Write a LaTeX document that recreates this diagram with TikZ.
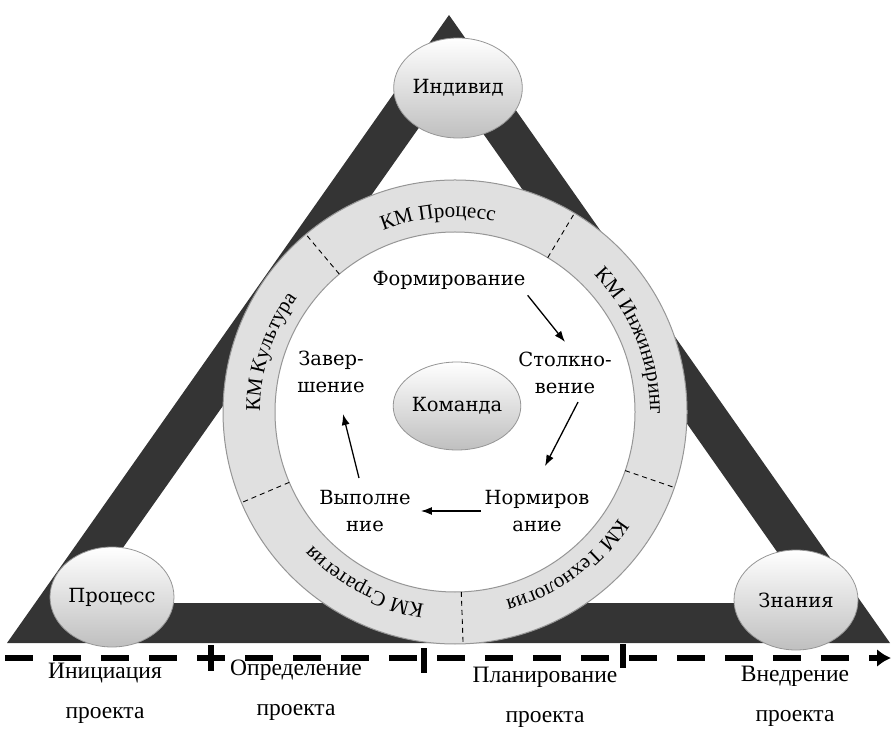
\documentclass[tikz,border=0pt]{standalone}
\usepackage{fontspec}
\setmainfont{Liberation Serif}
\newfontfamily\stagefont{DejaVu Serif}
\usetikzlibrary{shapes.geometric,arrows.meta,positioning,decorations.text}

\definecolor{bandgray}{RGB}{52,52,52}
\definecolor{ringgray}{RGB}{224,224,224}
\definecolor{rimgray}{RGB}{150,150,150}

\newcommand\ringlabel[2]{%
  \path[decorate, decoration={text along path, text align=center,
    text={|\fontsize{21}{24}\selectfont|#2}}]
    (ring) ++(#1+45:195) arc[start angle=#1+45, end angle=#1-45, radius=195];}

\begin{document}
\begin{tikzpicture}[x=1pt, y=1pt,
  ball/.style={ellipse, draw=rimgray, line width=0.8pt, top color=white, bottom color=black!25,
    minimum width=124pt, minimum height=100pt, inner sep=0pt, font=\stagefont\fontsize{19.5}{22}\selectfont},
  stage/.style={align=center, inner sep=2pt, font=\stagefont\fontsize{19.5}{27}\selectfont},
  cyc/.style={-{Latex[length=11pt,width=8pt]}, line width=1.3pt},
  divider/.style={line width=0.9pt, dash pattern=on 5pt off 4pt},
  phase/.style={align=center, font=\fontsize{23.5}{40}\selectfont},
  timeline/.style={line width=6pt, dash pattern=on 28pt off 20pt}]
\useasboundingbox (0,0) rectangle (893,728);

% triangle band
\fill[bandgray, even odd rule] (449,713) -- (7,85) -- (890,85) -- cycle
  (449,643) -- (84,125) -- (813,125) -- cycle;

% ring
\coordinate (ring) at (455,316);
\fill[ringgray, draw=rimgray, line width=1pt] (ring) circle[radius=232];
\fill[white, draw=rimgray, line width=1pt] (ring) circle[radius=180];
\foreach \a in {130,59,-19,-88,-157}
  \draw[divider] (ring) ++(\a:180) -- ++(\a:52);
\ringlabel{95}{КМ Процесс}
\ringlabel{22}{КМ Инжиниринг}
\ringlabel{-54}{КМ Технология}
\ringlabel{-118}{КМ Стратегия}
\ringlabel{162}{КМ Культура}

% corners and centre
\node[ball] (indiv) at (458,640) {Индивид};
\node[ball] (proc) at (112,131) {Процесс};
\node[ball] (znan) at (796,128) {Знания};
\node[ball, minimum width=122pt, minimum height=88pt] (team) at (457,322) {Команда};

% team stages
\node[stage] (form) at (449,448) {Формирование};
\node[stage] (stolk) at (565,355) {Столкно-\\вение};
\node[stage] (norm) at (537,217) {Нормиров\\ание};
\node[stage] (vyp) at (365,217) {Выполне\\ние};
\node[stage] (zav) at (331,356) {Завер-\\шение};
\draw[cyc] ([yshift=-4pt]form.south east) -- ([yshift=8pt]stolk.north);
\draw[cyc] ([shift={(13pt,-6pt)}]stolk.south) -- ([shift={(8pt,22pt)}]norm.north);
\draw[cyc] ([xshift=-2pt]norm.west) -- ([xshift=8pt]vyp.east);
\draw[cyc] ([shift={(-6pt,10pt)}]vyp.north) -- ([shift={(12pt,-19pt)}]zav.south);

% project phases
\coordinate (tlstart) at (5,70);
\coordinate (tlend) at (891,70);
\draw[timeline, -{Latex[length=14pt,width=18pt]}] (tlstart) -- (tlend);
\draw[line width=6pt] (211,83) -- (211,57);
\draw[line width=6pt] (424,80) -- (424,55);
\draw[line width=6pt] (623,84) -- (623,60);
\node[phase] (init) at (105,35) {Инициация\\проекта};
\node[phase] (defn) at (296,38) {Определение\\проекта};
\node[phase] (plan) at (545,31) {Планирование\\проекта};
\node[phase] (impl) at (795,32) {Внедрение\\проекта};
\end{tikzpicture}
\end{document}
